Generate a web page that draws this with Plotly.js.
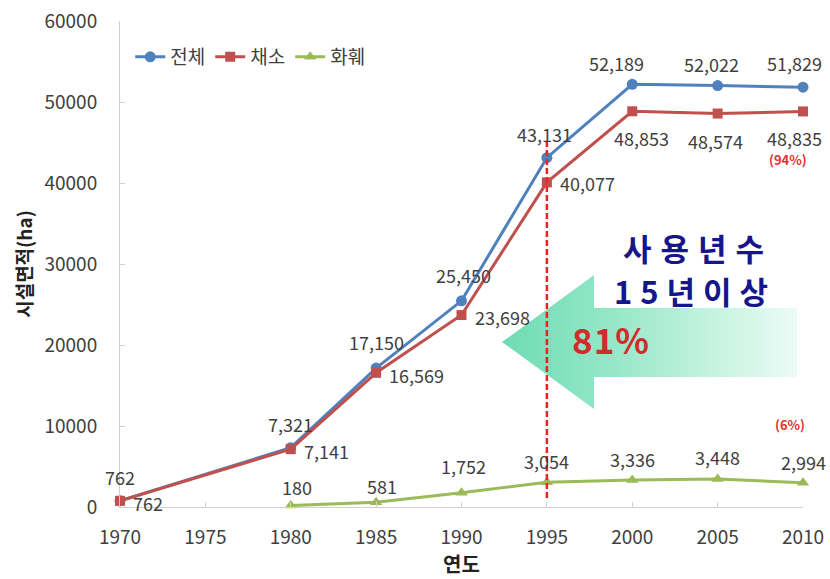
<!DOCTYPE html>
<html>
<head>
<meta charset="utf-8">
<script src="https://cdn.plot.ly/plotly-3.0.1.min.js"></script>
<style>
  html, body { margin: 0; padding: 0; background: #fff; }
  #chart { width: 830px; height: 579px; }
</style>
</head>
<body>
<div id="chart"></div>
<script>
// 연도별 시설원예 면적 (ha)
const years      = [1970, 1980, 1985, 1990, 1995, 2000, 2005, 2010];
const totalArea  = [762, 7321, 17150, 25450, 43131, 52189, 52022, 51829];
const vegArea    = [762, 7141, 16569, 23698, 40077, 48853, 48574, 48835];
const flowerYears = [1980, 1985, 1990, 1995, 2000, 2005, 2010];
const flowerArea  = [180, 581, 1752, 3054, 3336, 3448, 2994];
const seriesNames = ['전체', '채소', '화훼'];
const xTicks = [1970, 1975, 1980, 1985, 1990, 1995, 2000, 2005, 2010];
const yTicks = [0, 10000, 20000, 30000, 40000, 50000, 60000];
const markYear = 1995;

const FONT = "'Noto Sans CJK KR', 'Noto Sans', sans-serif";
const LABEL_COLOR = '#404040';
const C_TOTAL = '#4f81bd', C_VEG = '#c0504d', C_FLOWER = '#9bbb59';

// label placement (pixel offsets from each point)
const totalLabelShift = [[0, 24], [0, 24], [0, 26], [2, 26], [-2, 24], [-16, 21], [-6, 22], [-9, 24]];
const vegLabelShift = [['r', 11, -2], ['r', 11, -2], ['r', 11, -2], ['r', 11, -2], ['r', 11, -1],
                       ['b', 9, -27], ['b', -2, -27], ['b', -9, -27]];
const flowerLabelShift = [[6, 19], [6, 16], [2, 27], [0, 21], [0, 21], [0, 22], [0, 21]];

const fmt = v => v.toLocaleString('en-US');

// gradient arrow behind the callout text (pixel space of the plot frame)
const arrowX = [502, 594, 594, 797, 797, 594, 594, 502];
const arrowY = [342, 275, 308, 308, 377, 377, 409, 342];

const traces = [
  {
    x: arrowX, y: arrowY, xaxis: 'x2', yaxis: 'y2',
    type: 'scatter', mode: 'none', fill: 'toself',
    fillgradient: {
      type: 'horizontal',
      colorscale: [[0, '#6edcb3'], [0.35, '#92e6c6'], [0.7, '#c4f2e0'], [1, '#ebfbf5']]
    },
    showlegend: false, hoverinfo: 'skip'
  },
  {
    x: years, y: totalArea, name: seriesNames[0], type: 'scatter', mode: 'lines+markers',
    line: { color: C_TOTAL, width: 3 },
    marker: { symbol: 'circle', size: 11, color: C_TOTAL },
    cliponaxis: false
  },
  {
    x: years, y: vegArea, name: seriesNames[1], type: 'scatter', mode: 'lines+markers',
    line: { color: C_VEG, width: 3 },
    marker: { symbol: 'square', size: 10, color: C_VEG },
    cliponaxis: false
  },
  {
    x: flowerYears, y: flowerArea, name: seriesNames[2], type: 'scatter', mode: 'lines+markers',
    line: { color: C_FLOWER, width: 3 },
    marker: { symbol: 'triangle-up', size: 11, color: C_FLOWER },
    cliponaxis: false
  }
];

const annotations = [];
const labelFont = { family: FONT, size: 18, color: LABEL_COLOR };

years.forEach((yr, i) => {
  annotations.push({
    x: yr, y: totalArea[i], xref: 'x', yref: 'y', text: fmt(totalArea[i]),
    showarrow: false, xanchor: 'center', yanchor: 'middle',
    xshift: totalLabelShift[i][0], yshift: totalLabelShift[i][1], font: labelFont
  });
  const s = vegLabelShift[i];
  annotations.push({
    x: yr, y: vegArea[i], xref: 'x', yref: 'y', text: fmt(vegArea[i]),
    showarrow: false, xanchor: s[0] === 'r' ? 'left' : 'center', yanchor: 'middle',
    xshift: s[1], yshift: s[2], font: labelFont
  });
});
flowerYears.forEach((yr, i) => {
  annotations.push({
    x: yr, y: flowerArea[i], xref: 'x', yref: 'y', text: fmt(flowerArea[i]),
    showarrow: false, xanchor: 'center', yanchor: 'middle',
    xshift: flowerLabelShift[i][0], yshift: flowerLabelShift[i][1], font: labelFont
  });
});

// share notes at the last year
const lastIdx = years.length - 1;
annotations.push({
  x: years[lastIdx], y: vegArea[lastIdx], xref: 'x', yref: 'y', text: '<b>(94%)</b>',
  showarrow: false, xanchor: 'center', yanchor: 'middle', xshift: -15, yshift: -48,
  font: { family: FONT, size: 13, color: '#e5312f' }
});
annotations.push({
  x: flowerYears[flowerYears.length - 1], y: flowerArea[flowerArea.length - 1], xref: 'x', yref: 'y',
  text: '<b>(6%)</b>', showarrow: false, xanchor: 'center', yanchor: 'middle', xshift: -13, yshift: 58,
  font: { family: FONT, size: 13, color: '#e5312f' }
});

// callout text
annotations.push({
  x: 698, y: 247, xref: 'x2', yref: 'y2',
  text: '<b><span style="letter-spacing:9px">사용년수</span></b>',
  showarrow: false, xanchor: 'center', yanchor: 'middle',
  font: { family: FONT, size: 31, color: '#16168c' }
});
annotations.push({
  x: 695, y: 290, xref: 'x2', yref: 'y2',
  text: '<b><span style="letter-spacing:8px">15년이상</span></b>',
  showarrow: false, xanchor: 'center', yanchor: 'middle',
  font: { family: FONT, size: 31, color: '#16168c' }
});
annotations.push({
  x: 611, y: 338, xref: 'x2', yref: 'y2',
  text: '<b><span style="letter-spacing:1px">81%</span></b>', showarrow: false,
  xanchor: 'center', yanchor: 'middle',
  font: { family: FONT, size: 35, color: '#d22b2b' }
});

const layout = {
  width: 830, height: 579,
  margin: { l: 120, r: 27, t: 21, b: 72 },
  paper_bgcolor: '#ffffff', plot_bgcolor: '#ffffff',
  font: { family: FONT, color: LABEL_COLOR },
  showlegend: true,
  legend: {
    orientation: 'h', x: 0.015, y: 0.965, xanchor: 'left', yanchor: 'top',
    bgcolor: 'rgba(0,0,0,0)', font: { family: FONT, size: 19, color: LABEL_COLOR },
    traceorder: 'normal'
  },
  xaxis: {
    range: [1970, 2010], tickvals: xTicks, ticktext: xTicks.map(String),
    showgrid: false, zeroline: false,
    showline: true, linecolor: '#d0d0d0', linewidth: 1,
    ticks: 'inside', ticklen: 5, tickcolor: '#d0d0d0',
    tickfont: { family: FONT, size: 19, color: LABEL_COLOR },
    ticklabelstandoff: 13,
    title: { text: '<b>연도</b>', font: { family: FONT, size: 20, color: '#222' }, standoff: 10 },
    fixedrange: true
  },
  yaxis: {
    range: [0, 60000], tickvals: yTicks, tickformat: 'd',
    showgrid: false, zeroline: false,
    showline: true, linecolor: '#d0d0d0', linewidth: 1,
    ticks: 'inside', ticklen: 5, tickcolor: '#d0d0d0',
    tickfont: { family: FONT, size: 19, color: LABEL_COLOR },
    ticklabelstandoff: 18,
    title: { text: '<b>시설면적(ha)</b>', font: { family: FONT, size: 19, color: '#222' }, standoff: 6 },
    fixedrange: true
  },
  xaxis2: { overlaying: 'x', range: [120, 803], visible: false, fixedrange: true },
  yaxis2: { overlaying: 'y', range: [507, 21], visible: false, fixedrange: true },
  shapes: [{
    type: 'line', xref: 'x', yref: 'y', layer: 'above',
    x0: markYear, x1: markYear, y0: 1100, y1: 45500,
    line: { color: '#ee2020', width: 2.5, dash: '6px,3px' }
  }],
  annotations: annotations
};

Plotly.newPlot('chart', traces, layout, { displayModeBar: false, staticPlot: true });
</script>
</body>
</html>
